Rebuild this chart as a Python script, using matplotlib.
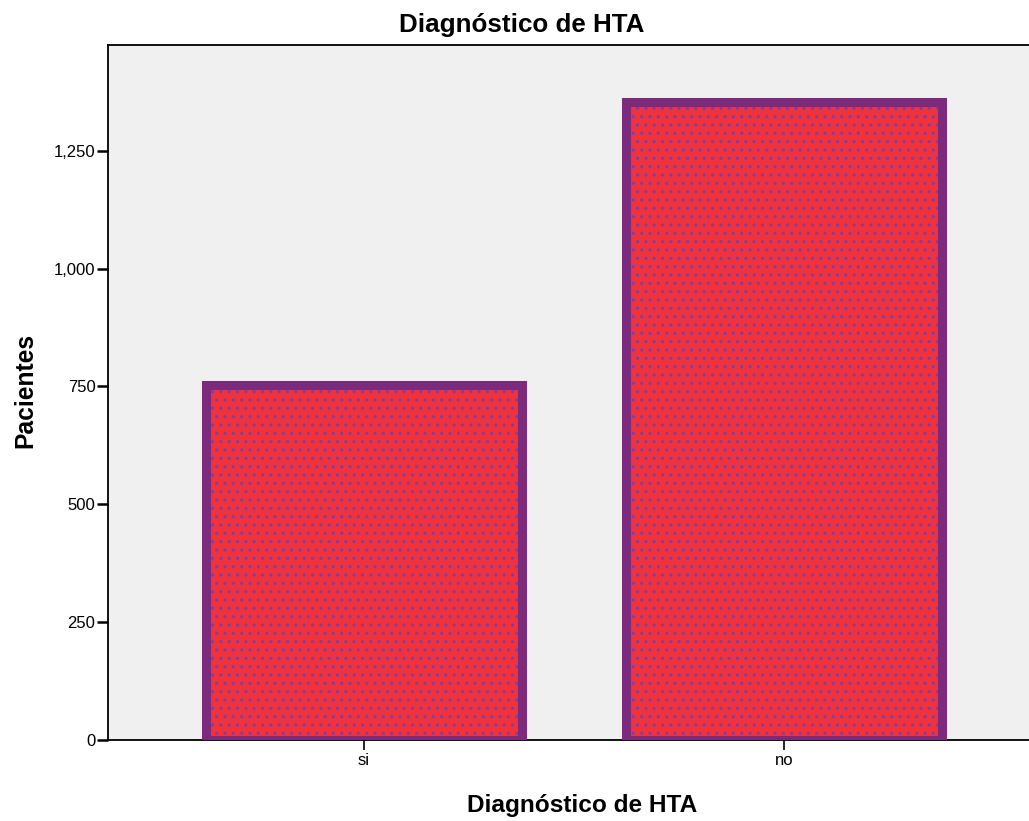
import matplotlib
matplotlib.use("Agg")
import matplotlib.pyplot as plt
from matplotlib.ticker import FuncFormatter

categories = ["si", "no"]
values = [753, 1355]
yticks = [0, 250, 500, 750, 1000, 1250]

plt.rcParams['font.family'] = ['Liberation Sans', 'DejaVu Sans']
plt.rcParams['hatch.linewidth'] = 1.1

W, H = 1029, 821
fig = plt.figure(figsize=(W / 100, H / 100), dpi=100)
left = 108 / W
bottom = (H - 739.5) / H
top = 45 / H
ax = fig.add_axes([left, bottom, 1.0 - left + 0.02, 1 - top - bottom])
ax.set_facecolor('#F0F0F0')

x = list(range(len(categories)))
width = 0.752
# fill with dotted texture
ax.bar(x, values, width=width, color='#F0323C', edgecolor='#7A40A6',
       hatch='..', linewidth=0, zorder=2)
# thick border
ax.bar(x, values, width=width, fill=False, edgecolor='#7C2B7C',
       linewidth=6.5, zorder=3)

ax.set_xlim(-0.609, 1.632)
ax.set_ylim(0, 1475)
ax.set_xticks(x)
ax.set_xticklabels(categories, fontsize=12)
ax.set_yticks(yticks)
ax.yaxis.set_major_formatter(FuncFormatter(lambda v, p: f"{int(v):,}"))
ax.tick_params(axis='y', labelsize=12, length=8, width=1.8, pad=1)
ax.tick_params(axis='x', length=7, width=1.2, pad=3)

ax.spines['right'].set_visible(False)
for s in ['left', 'top', 'bottom']:
    ax.spines[s].set_linewidth(1.3)
    ax.spines[s].set_color('black')

fig.text(521.5 / W, 1 - 31.7 / H, "Diagnóstico de HTA", fontsize=18.7,
         fontweight='bold', ha='center', va='baseline')
fig.text(582 / W, 1 - 812 / H, "Diagnóstico de HTA", fontsize=17.6,
         fontweight='bold', ha='center', va='baseline')
fig.text(32 / W, 1 - 390.5 / H, "Pacientes", fontsize=17.7, fontweight='bold',
         rotation=90, rotation_mode='anchor', ha='center', va='baseline')

fig.savefig("out.png", dpi=100)
